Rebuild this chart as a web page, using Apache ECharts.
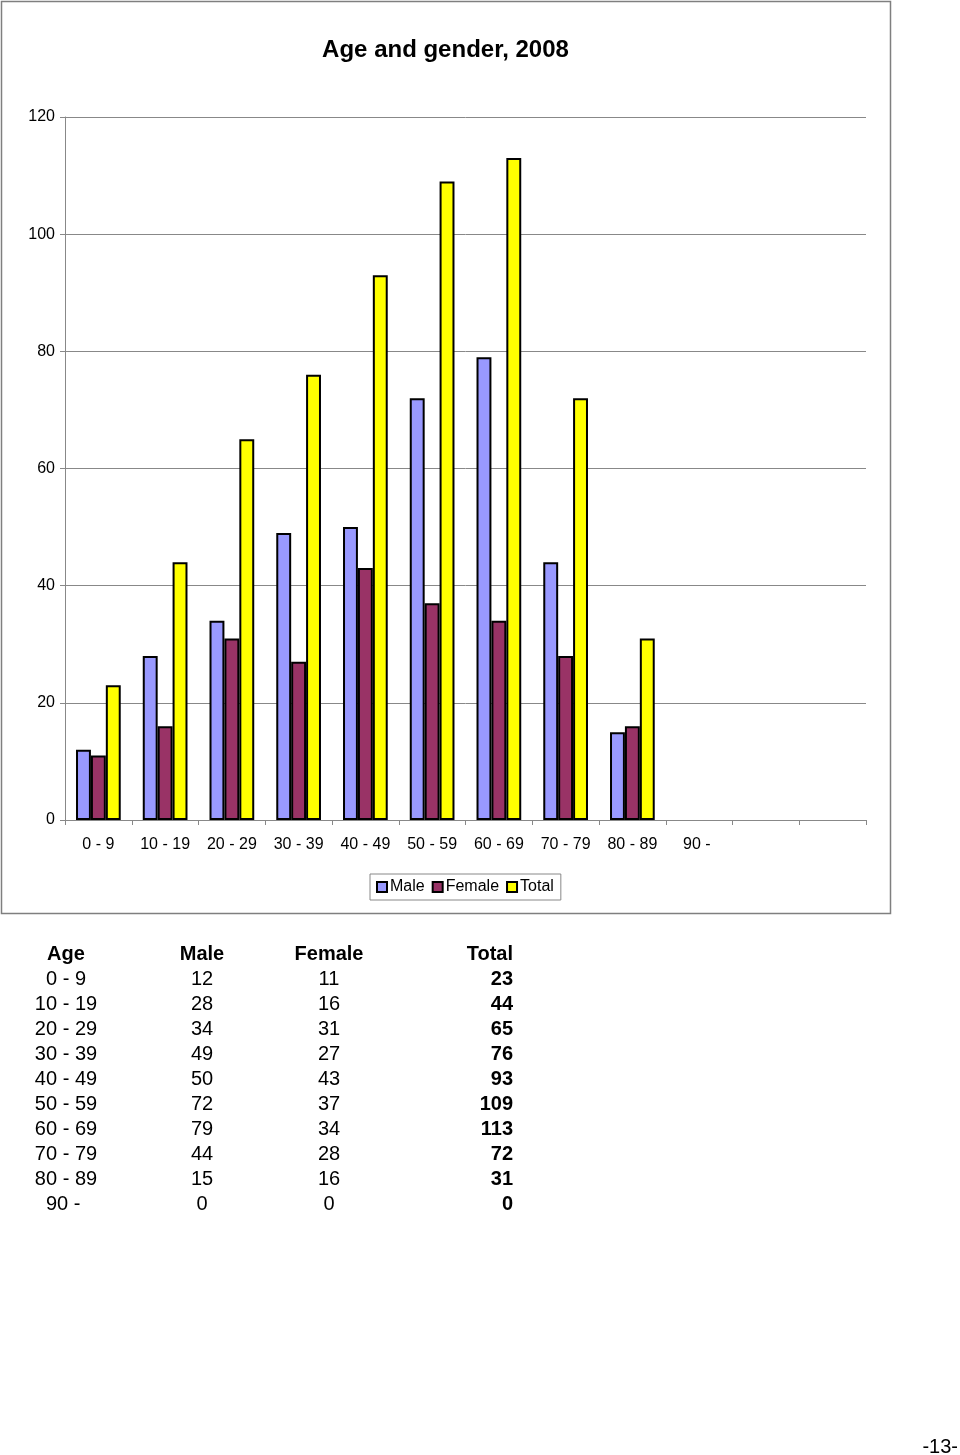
<!DOCTYPE html>
<html><head><meta charset="utf-8">
<style>html,body{margin:0;padding:0;background:#fff}#c{width:960px;height:1455px}</style>
<script src="https://cdn.jsdelivr.net/npm/echarts@6/dist/echarts.min.js"></script>
</head><body><div id="c"></div>
<script>
const categories = ['0 - 9','10 - 19','20 - 29','30 - 39','40 - 49','50 - 59','60 - 69','70 - 79','80 - 89','90 - ','',''];
const tableAges = ['0 - 9','10 - 19','20 - 29','30 - 39','40 - 49','50 - 59','60 - 69','70 - 79','80 - 89','90 - '];
const male = [12,28,34,49,50,72,79,44,15,0];
const female = [11,16,31,27,43,37,34,28,16,0];
const total = [23,44,65,76,93,109,113,72,31,0];
const yTicks = [0,20,40,60,80,100,120];
const tableHeaders = ['Age','Male','Female','Total'];

const FONT = '"Liberation Sans", Arial, sans-serif';
const chart = echarts.init(document.getElementById('c'), null, {renderer:'canvas'});

const graphics = [
  {type:'rect', shape:{x:1.5,y:1.5,width:889,height:912}, style:{fill:'none', stroke:'#7f7f7f', lineWidth:1.5}, z:-1},
  {type:'text', x:445.5, y:50, style:{text:'Age and gender, 2008', font:'bold 24px '+FONT, fill:'#000', align:'center', verticalAlign:'middle'}}
];
// table
const colX = [66, 202, 329, 513];
const colAlign = ['center','center','center','right'];
tableHeaders.forEach((h,i)=>{
  graphics.push({type:'text', x:colX[i], y:954, style:{text:h, font:'bold 20px '+FONT, fill:'#000', align:colAlign[i], verticalAlign:'middle'}});
});
tableAges.forEach((a,r)=>{
  const y = 979 + r*25;
  const row = [a, String(male[r]), String(female[r]), String(total[r])];
  row.forEach((t,i)=>{
    graphics.push({type:'text', x:colX[i], y:y, style:{text:t, font:(i===3?'bold ':'')+'20px '+FONT, fill:'#000', align:colAlign[i], verticalAlign:'middle'}});
  });
});
graphics.push({type:'text', x:958, y:1447, style:{text:'-13-', font:'20px '+FONT, fill:'#000', align:'right', verticalAlign:'middle'}});

const barStyle = (c)=>({color:c, borderColor:'#000', borderWidth:2});
const toData = (arr)=>arr.map(v => v === 0 ? {value:v, itemStyle:{borderWidth:0}} : v);
chart.setOption({
  animation:false,
  textStyle:{fontFamily:FONT},
  legend:{left:370, top:874, itemWidth:10, itemHeight:10, itemGap:7, padding:[5,7,5,6],
    borderColor:'#888', borderWidth:1, icon:'rect',
    textStyle:{fontSize:16, color:'#000', fontFamily:FONT, padding:[0,0,0,-2]},
    data:['Male','Female','Total']},
  grid:{left:65, right:94, top:117, bottom:635, containLabel:false},
  xAxis:{type:'category', data:categories,
    axisLine:{lineStyle:{color:'#888', width:1}},
    axisTick:{show:true, length:5, lineStyle:{color:'#888'}},
    axisLabel:{fontSize:16, color:'#000', margin:17, interval:0, fontFamily:FONT},
    splitLine:{show:false}},
  yAxis:{type:'value', min:0, max:120, interval:20,
    axisLine:{show:true, lineStyle:{color:'#888', width:1}},
    axisTick:{show:true, length:5, lineStyle:{color:'#888'}},
    axisLabel:{fontSize:16, color:'#000', margin:10, fontFamily:FONT, padding:[4,0,0,0]},
    splitLine:{show:true, lineStyle:{color:'#888', width:1}}},
  series:[
    {name:'Male', type:'bar', data:toData(male), barGap:'0%', barCategoryGap:'33%', itemStyle:barStyle('#9999ff')},
    {name:'Female', type:'bar', data:toData(female), barGap:'0%', barCategoryGap:'33%', itemStyle:barStyle('#993366')},
    {name:'Total', type:'bar', data:toData(total), barGap:'0%', barCategoryGap:'33%', itemStyle:barStyle('#ffff00')}
  ],
  graphic:graphics
});
</script></body></html>
